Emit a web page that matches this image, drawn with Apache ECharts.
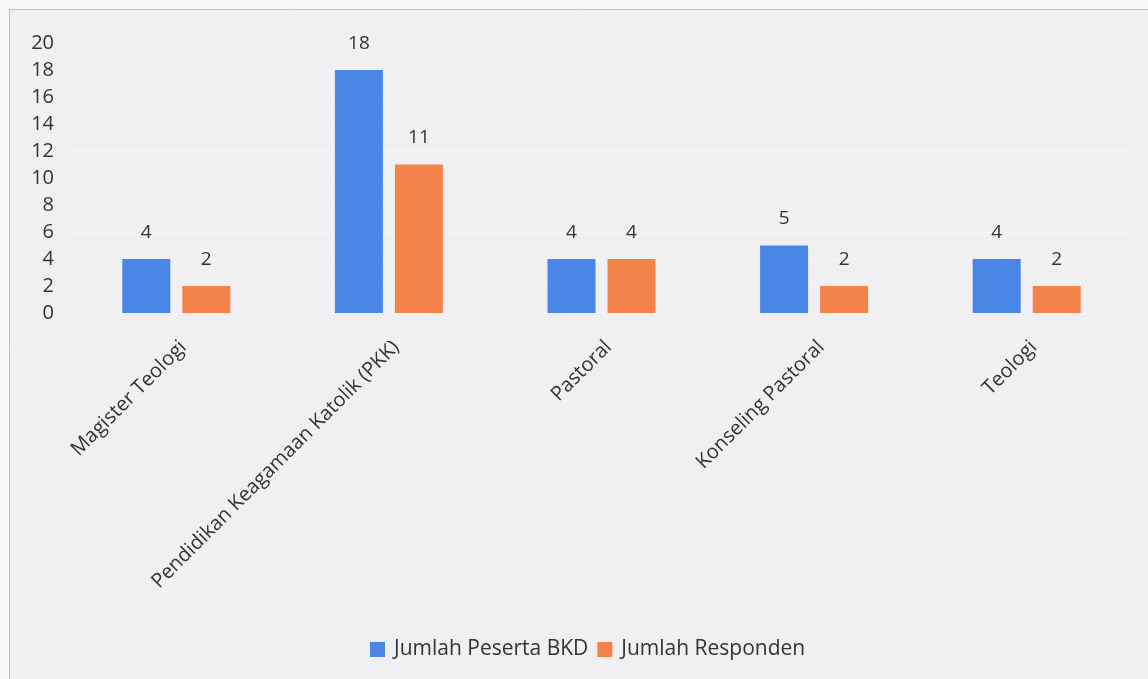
<!DOCTYPE html>
<html><head><meta charset="utf-8">
<script src="https://cdn.jsdelivr.net/npm/echarts@6/dist/echarts.min.js"></script>
<style>html,body{margin:0;padding:0;background:#f7f7f7;}#c{width:1148px;height:679px;}</style>
</head><body><div id="c"></div>
<script>
const categories = ['Magister Teologi', 'Pendidikan Keagamaan Katolik (PKK)', 'Pastoral', 'Konseling Pastoral', 'Teologi'];
const pesertaBKD = [4, 18, 4, 5, 4];
const responden = [2, 11, 4, 2, 2];
const seriesNames = ['Jumlah Peserta BKD', 'Jumlah Responden'];
const font = '"Open Sans", "Noto Sans", sans-serif';
const textColor = '#333333';
const chart = echarts.init(document.getElementById('c'));
chart.setOption({
  backgroundColor: '#f7f7f7',
  animation: false,
  textStyle: { fontFamily: font },
  graphic: [{
    type: 'rect', z: -10, silent: true,
    shape: { x: 9.5, y: 9.5, width: 1200, height: 700 },
    style: { fill: '#f0f0f2', stroke: '#bdbdbd', lineWidth: 1 }
  }],
  grid: { left: 70, right: 15, top: 43, height: 270, containLabel: false },
  legend: {
    top: 634, left: 365, itemWidth: 15, itemHeight: 15, itemGap: 9,
    icon: 'rect',
    textStyle: { fontSize: 21, color: textColor, fontFamily: font, padding: [0, 0, 0, 4] }
  },
  xAxis: {
    type: 'category', data: categories,
    axisLine: { show: false }, axisTick: { show: false },
    axisLabel: { rotate: 45, fontSize: 20, color: textColor, margin: 24, interval: 0,
      verticalAlign: 'top', fontFamily: font }
  },
  yAxis: {
    type: 'value', min: 0, max: 20, interval: 2,
    axisLine: { show: false }, axisTick: { show: false },
    splitLine: { show: true, lineStyle: { color: '#f6f6f8', width: 1 } },
    axisLabel: { fontSize: 20, color: textColor, margin: 16, fontFamily: font }
  },
  series: [
    { name: seriesNames[0], type: 'bar', data: pesertaBKD, barWidth: 48, barGap: '25%',
      itemStyle: { color: '#4a86e8' },
      label: { show: true, position: 'top', distance: 17, fontSize: 19, color: textColor, fontFamily: font } },
    { name: seriesNames[1], type: 'bar', data: responden, barWidth: 48,
      itemStyle: { color: '#f4834a' },
      label: { show: true, position: 'top', distance: 17, fontSize: 19, color: textColor, fontFamily: font } }
  ]
});
</script></body></html>
